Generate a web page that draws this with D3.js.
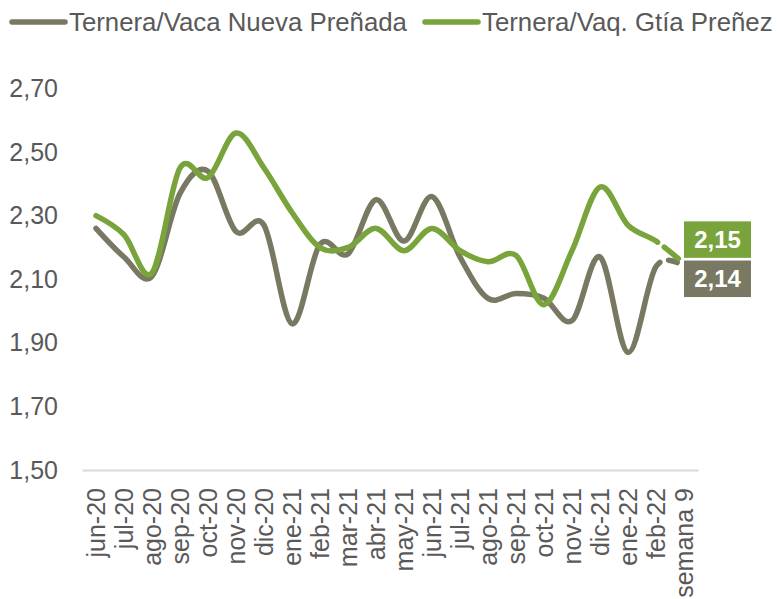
<!DOCTYPE html>
<html>
<head>
<meta charset="utf-8">
<script src="https://cdn.jsdelivr.net/npm/d3@7"></script>
<style>
  body { margin: 0; background: #fff; }
  text { font-family: "Liberation Sans", Arial, sans-serif; }
</style>
</head>
<body>
<div id="chart"></div>
<script>
// Chart data
var months = ["jun-20", "jul-20", "ago-20", "sep-20", "oct-20", "nov-20", "dic-20",
  "ene-21", "feb-21", "mar-21", "abr-21", "may-21", "jun-21", "jul-21", "ago-21",
  "sep-21", "oct-21", "nov-21", "dic-21", "ene-22", "feb-22", "semana 9"];

var vacaNueva = [2.26, 2.17, 2.11, 2.37, 2.44, 2.25, 2.27, 1.96, 2.21, 2.18, 2.35,
  2.22, 2.36, 2.17, 2.04, 2.055, 2.04, 1.97, 2.17, 1.87, 2.14, 2.14];

var gtiaPrenez = [2.30, 2.24, 2.12, 2.45, 2.42, 2.56, 2.45, 2.31, 2.20, 2.20, 2.26,
  2.19, 2.26, 2.19, 2.155, 2.175, 2.02, 2.19, 2.39, 2.27, 2.22, 2.15];

var yTicks = [1.5, 1.7, 1.9, 2.1, 2.3, 2.5, 2.7];

var seriesNames = ["Ternera/Vaca Nueva Preñada", "Ternera/Vaq. Gtía Preñez"];
var lastLabels = ["2,14", "2,15"];

var colors = ["#797862", "#78a43b"];

// SVG area
var svgWidth = 777;
var svgHeight = 599;

var margin = { top: 88.5, right: 79, bottom: 129, left: 82 };
var chartWidth = svgWidth - margin.left - margin.right;
var chartHeight = svgHeight - margin.top - margin.bottom;

var svg = d3.select("#chart")
  .append("svg")
  .attr("width", svgWidth)
  .attr("height", svgHeight);

var chartGroup = svg.append("g")
  .attr("transform", `translate(${margin.left}, ${margin.top})`);

// Scales
var xScale = d3.scalePoint()
  .domain(months)
  .range([0, chartWidth])
  .padding(0.5);

var yScale = d3.scaleLinear()
  .domain([1.5, 2.7])
  .range([chartHeight, 0]);

var fmt = d => d3.format(".2f")(d).replace(".", ",");

// Y axis labels (no line, no ticks)
var leftAxis = d3.axisLeft(yScale)
  .tickValues(yTicks)
  .tickFormat(fmt)
  .tickSize(0)
  .tickPadding(24);

var yAxisG = chartGroup.append("g").call(leftAxis);
yAxisG.select(".domain").remove();
yAxisG.selectAll("text")
  .attr("font-size", 25)
  .attr("font-family", "Liberation Sans, Arial, sans-serif")
  .attr("fill", "#595959");

// X axis: line plus rotated labels
var bottomAxis = d3.axisBottom(xScale).tickSize(0).tickPadding(18);
var xAxisG = chartGroup.append("g")
  .attr("transform", `translate(0, ${chartHeight})`)
  .call(bottomAxis);
xAxisG.select(".domain")
  .attr("stroke", "#d9d9d9")
  .attr("stroke-width", 2);
xAxisG.selectAll("text")
  .attr("font-size", 25)
  .attr("font-family", "Liberation Sans, Arial, sans-serif")
  .attr("fill", "#595959")
  .attr("text-anchor", "end")
  .attr("dy", "0.35em")
  .attr("transform", "rotate(-90)")
  .attr("x", -18)
  .attr("y", 0);

// Lines
var drawLine = d3.line()
  .x((d, i) => xScale(months[i]))
  .y(d => yScale(d))
  .curve(d3.curveCardinal.tension(0));

[vacaNueva, gtiaPrenez].forEach(function(series, s) {
  var path = chartGroup.append("path")
    .attr("d", drawLine(series))
    .attr("fill", "none")
    .attr("stroke", colors[s])
    .attr("stroke-width", 5.5)
    .attr("stroke-linecap", "round");

  // find length where the last (dashed) segment begins
  var node = path.node();
  var total = node.getTotalLength();
  var xTarget = xScale(months[months.length - 2]);
  var lo = 0, hi = total;
  for (var k = 0; k < 30; k++) {
    var mid = (lo + hi) / 2;
    if (node.getPointAtLength(mid).x < xTarget) lo = mid; else hi = mid;
  }
  var dashes = s === 0 ? [lo + 4, 9, 9, 100] : [lo + 1, 8, 18, 100];
  path.attr("stroke-dasharray", dashes.join(","));
});

// End value labels
var labelGroup = chartGroup.append("g");
[[gtiaPrenez, 1], [vacaNueva, 0]].forEach(function(item) {
  var s = item[1];
  var bx = xScale(months[months.length - 1]);
  var yTop = s === 1 ? yScale(gtiaPrenez[21]) - 42 : yScale(vacaNueva[21]) - 6;
  labelGroup.append("rect")
    .attr("x", bx)
    .attr("y", yTop)
    .attr("width", 67)
    .attr("height", 36.5)
    .attr("fill", colors[s]);
  labelGroup.append("text")
    .attr("x", bx + 33.5)
    .attr("y", yTop + 18.5)
    .attr("dy", "0.35em")
    .attr("text-anchor", "middle")
    .attr("font-family", "Open Sans, sans-serif")
    .attr("font-weight", "bold")
    .attr("font-size", 24)
    .attr("fill", "#fff")
    .text(lastLabels[s]);
});

// Legend
var legendX = [12, 425];
seriesNames.forEach(function(name, s) {
  var g = svg.append("g").attr("transform", `translate(${legendX[s]}, 22)`);
  g.append("line")
    .attr("x1", 0).attr("x2", 53)
    .attr("y1", 0).attr("y2", 0)
    .attr("stroke", colors[s])
    .attr("stroke-width", 5.5)
    .attr("stroke-linecap", "round");
  g.append("text")
    .attr("x", 57)
    .attr("y", 0)
    .attr("dy", "0.35em")
    .attr("font-size", 25.8)
    .attr("fill", "#595959")
    .text(name);
});
</script>
</body>
</html>
